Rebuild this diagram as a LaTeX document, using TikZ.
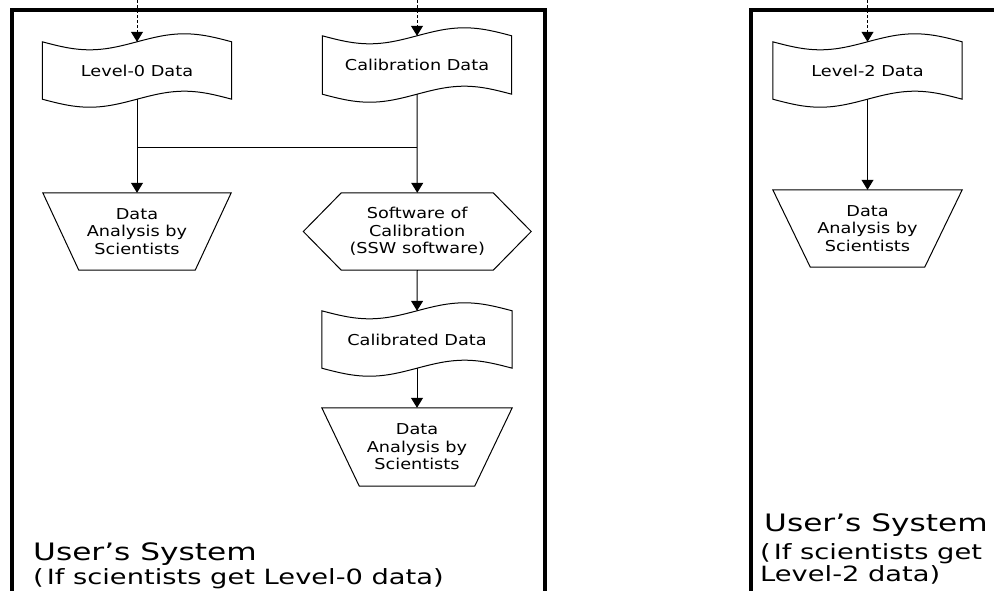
\documentclass[tikz,border=0pt]{standalone}
\usepackage{fontspec}
\setmainfont[FakeStretch=1.18]{DejaVu Sans}
\newfontfamily\capfont[FakeStretch=1.3]{DejaVu Sans}
\usetikzlibrary{arrows.meta,calc}
\tikzset{
  box/.style={rectangle, draw=none, inner sep=0pt, align=center, font=\fontsize{15}{17.5}\selectfont},
  outline/.style={draw=black, line width=1pt, line join=miter},
  frame/.style={line width=4.5pt, line join=miter},
  flow/.style={line width=1pt, -{Triangle[width=12pt,length=10pt]}},
  feed/.style={flow, dash pattern=on 3pt off 2pt},
  link/.style={line width=1pt},
  caption/.style={inner sep=0pt, anchor=base west},
  bigcap/.style={caption, font=\capfont\fontsize{24}{24}\selectfont},
  smallcap/.style={caption, font=\capfont\fontsize{21}{21}\selectfont}
}
\newcommand\tapeoutline[1]{%
  \path[outline] (#1.north west)
    sin ($(#1.north west)!0.25!(#1.north east)+(0,8)$)
    cos (#1.north)
    sin ($(#1.north west)!0.75!(#1.north east)+(0,-8)$)
    cos (#1.north east)
    -- (#1.south east)
    sin ($(#1.south west)!0.75!(#1.south east)+(0,-8)$)
    cos (#1.south)
    sin ($(#1.south west)!0.25!(#1.south east)+(0,8)$)
    cos (#1.south west) -- cycle;}
\newcommand\funneloutline[2]{%
  \path[outline] (#1.north west) -- (#1.north east)
    -- ([xshift=-#2pt]#1.south east) -- ([xshift=#2pt]#1.south west) -- cycle;}
\begin{document}
\begin{tikzpicture}[x=1pt,y=-1pt]
  \clip (0,0) rectangle (994,590);
  \useasboundingbox (0,0) rectangle (994,590);

  % frames
  \draw[frame] (12,600) -- (12,10) -- (545,10) -- (545,600);
  \draw[frame] (751,600) -- (751,10) -- (1000,10);

  % nodes
  \node[box, minimum width=189pt, minimum height=57pt] (lv0) at (137,70.5) {Level-0 Data};
  \node[box, minimum width=189pt, minimum height=58pt] (cal) at (417,65) {Calibration Data};
  \node[box, minimum width=188pt, minimum height=77pt] (an1) at (137,231.5) {Data\\Analysis by\\Scientists};
  \node[box, minimum width=227.5pt, minimum height=77pt] (hx) at (417.25,231.5) {Software of\\Calibration\\(SSW software)};
  \node[box, minimum width=190pt, minimum height=57pt] (cd) at (417,339.5) {Calibrated Data};
  \node[box, minimum width=190pt, minimum height=78pt] (an2) at (417,447) {Data\\Analysis by\\Scientists};
  \node[box, minimum width=189pt, minimum height=57pt] (lv2) at (867.5,70.5) {Level-2 Data};
  \node[box, minimum width=189pt, minimum height=77pt] (an3) at (867.5,228.5) {Data\\Analysis by\\Scientists};

  % outlines
  \tapeoutline{lv0}
  \tapeoutline{cal}
  \tapeoutline{cd}
  \tapeoutline{lv2}
  \funneloutline{an1}{36}
  \funneloutline{an2}{37.5}
  \funneloutline{an3}{37.5}
  \path[outline] (hx.west) -- ([xshift=38pt]hx.north west) -- ([xshift=-38pt]hx.north east)
    -- (hx.east) -- ([xshift=-38pt]hx.south east) -- ([xshift=38pt]hx.south west) -- cycle;

  % incoming dashed arrows
  \coordinate (in0) at (137,0);
  \coordinate (inc) at (417,0);
  \coordinate (in2) at (867.5,0);
  \draw[feed] (in0) -- (lv0.north);
  \draw[feed] (inc) -- (cal.north);
  \draw[feed] (in2) -- (lv2.north);

  % connectors
  \coordinate (jl) at (137,147);
  \coordinate (jr) at (417,147);
  \draw[flow] (lv0.south) -- (an1.north);
  \draw[flow] (cal.south) -- (hx.north);
  \draw[link] (jl) -- (jr);
  \draw[flow] (hx.south) -- (cd.north);
  \draw[flow] (cd.south) -- (an2.north);
  \draw[flow] (lv2.south) -- (an3.north);

  % captions
  \node[bigcap] (t1) at (33,560) {User’s System};
  \node[smallcap] (c1) at (33,584) {(\hspace{3pt}If scientists get Level-0 data)};
  \node[bigcap] (t2) at (764,531) {User’s System};
  \node[smallcap] (c2) at (760,559) {(\hspace{3pt}If scientists get};
  \node[smallcap] (c3) at (760,581) {Level-2 data)};
\end{tikzpicture}
\end{document}
